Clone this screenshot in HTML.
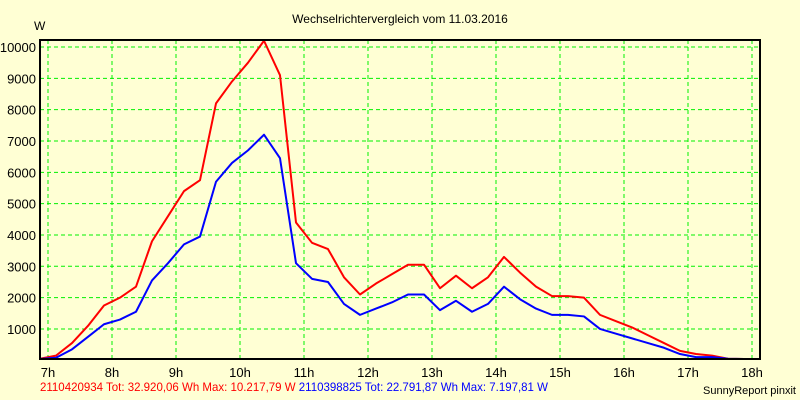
<!DOCTYPE html>
<html><head><meta charset="utf-8"><style>
body{margin:0;background:#ffffd4;}
svg{display:block;font-family:"Liberation Sans",sans-serif;}
</style></head><body>
<svg id="c" width="800" height="400">
<rect width="800" height="400" fill="#ffffd4"/>
<text x="400" y="23" font-size="12" text-anchor="middle">Wechselrichtervergleich vom 11.03.2016</text>
<text x="34" y="30" font-size="12">W</text>
<g id="grid"></g><g id="series"></g>
<rect x="40" y="40" width="720" height="319" fill="none" stroke="#000" stroke-width="2"/>
<text x="40" y="391" font-size="12" fill="#f00" textLength="508" lengthAdjust="spacingAndGlyphs">2110420934 Tot: 32.920,06 Wh Max: 10.217,79 W<tspan fill="#00f"> 2110398825 Tot: 22.791,87 Wh Max: 7.197,81 W</tspan></text>
<text x="796" y="394" font-size="11" text-anchor="end">SunnyReport pinxit</text>
</svg>
<script>
const yTicks=[1000,2000,3000,4000,5000,6000,7000,8000,9000,10000];
const xTicks=[7,8,9,10,11,12,13,14,15,16,17,18];
const redVals=[50,150,550,1100,1750,2000,2350,3800,4600,5400,5750,8200,8900,9500,10200,9100,4400,3750,3550,2650,2100,2450,2750,3050,3050,2300,2700,2300,2650,3300,2800,2350,2050,2050,2000,1450,1250,1050,800,550,300,200,150,50,20,0];
const blueVals=[0,80,350,750,1150,1300,1550,2550,3100,3700,3950,5700,6300,6700,7200,6450,3100,2600,2500,1800,1450,1650,1850,2100,2100,1600,1900,1550,1800,2350,1950,1650,1450,1450,1400,1000,850,700,550,400,200,100,100,50,0,0];
const xh=h=>48+(h-7)*64;
const y=v=>360.3-v*0.03133;
const ns="http://www.w3.org/2000/svg";
const grid=document.getElementById('grid'),ser=document.getElementById('series');
function mk(tag,attrs,parent){const e=document.createElementNS(ns,tag);for(const k in attrs)e.setAttribute(k,attrs[k]);parent.appendChild(e);return e;}
yTicks.forEach(v=>{
 const l=mk('line',{x1:40,x2:760,y1:y(v),y2:y(v),stroke:'#00f000','stroke-dasharray':'4,3'},grid);
 
 
 const t=mk('text',{x:36,y:y(v)+5,'font-size':13,'text-anchor':'end'},grid);t.textContent=v;
 
 
});
xTicks.forEach(h=>{
 const l=mk('line',{x1:xh(h),x2:xh(h),y1:40,y2:359,stroke:'#00f000','stroke-dasharray':'4,3'},grid);
 
 
 const t=mk('text',{x:xh(h),y:377,'font-size':13,'text-anchor':'middle'},grid);t.textContent=h+'h';
 
 
});
const px=i=>40+i*16;
function line(vals,col,name){
 const p=mk('polyline',{points:vals.map((v,i)=>px(i)+','+Math.min(y(v),359)).join(' '),fill:'none',stroke:col,'stroke-width':2,'stroke-linejoin':'round'},ser);
 
 
}
line(redVals,'#f00','series-2110420934');
line(blueVals,'#00f','series-2110398825');
</script>
</body></html>
